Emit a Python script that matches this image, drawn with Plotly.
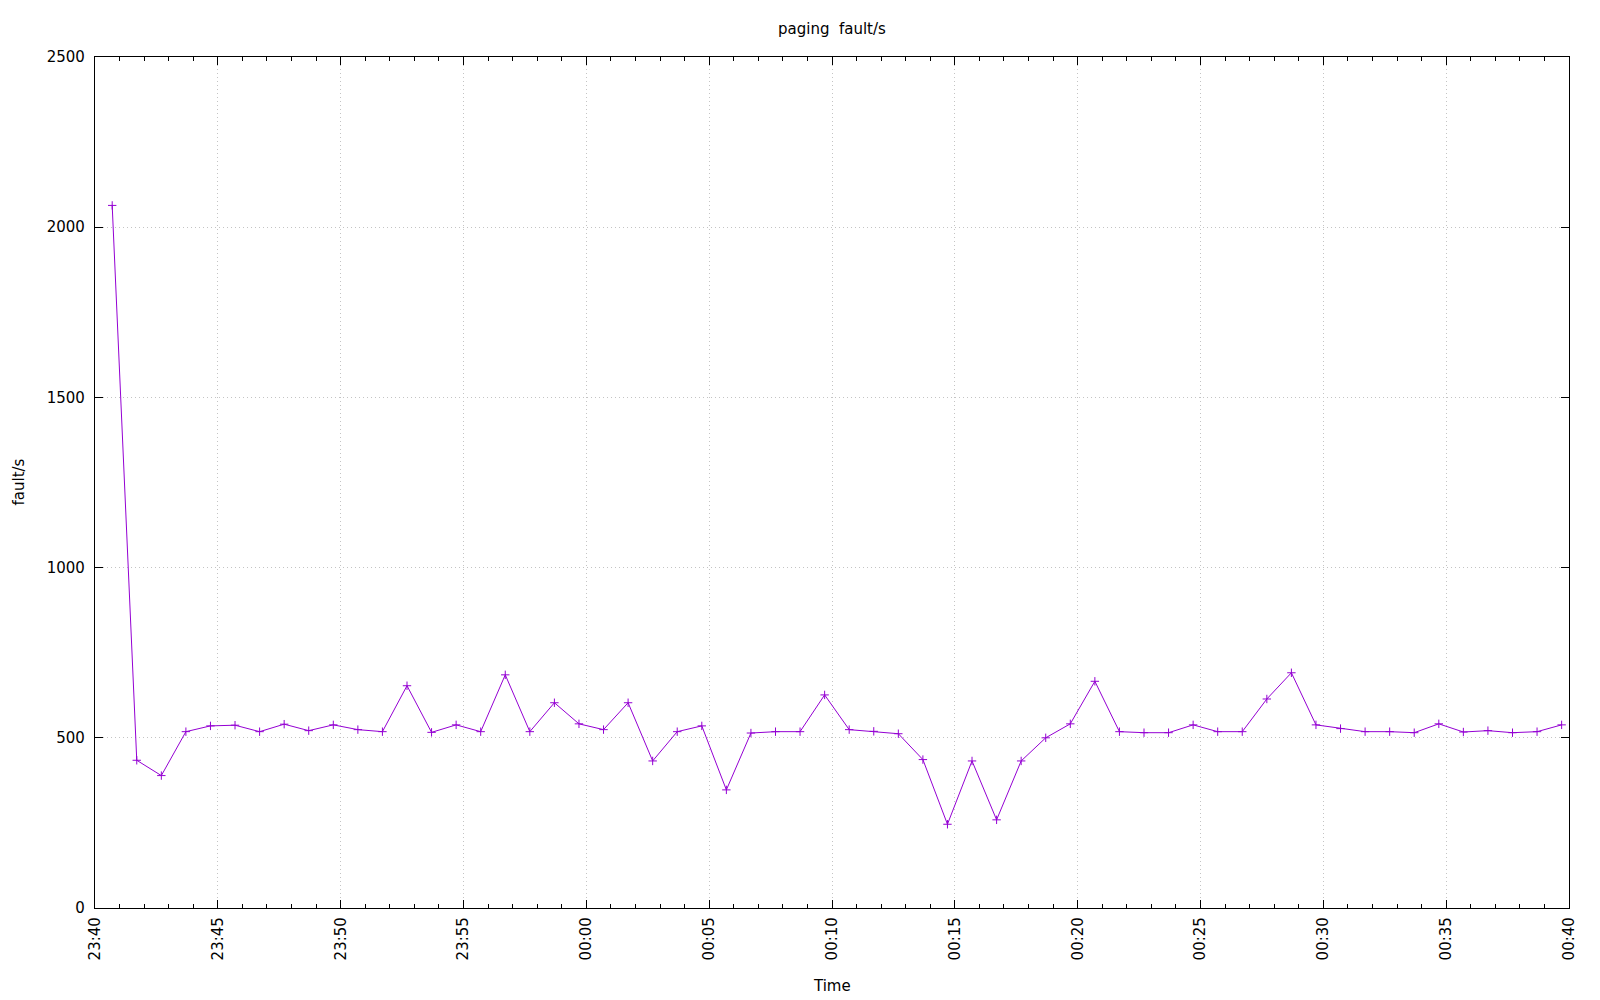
import pandas as pd
import plotly.graph_objects as go

START = "2021-01-01 23:40:42"
N_POINTS = 60
times = pd.date_range(START, periods=N_POINTS, freq="60s")

fault_per_s = [
    2064, 434, 389, 518, 535, 537, 518, 540, 521, 538,
    524, 518, 653, 516, 538, 518, 685, 518, 603, 541,
    524, 603, 432, 518, 535, 347, 514, 518, 518, 626,
    524, 519, 512, 436, 246, 432, 259, 432, 500, 541,
    666, 518, 515, 515, 538, 518, 518, 614, 691, 538,
    527, 518, 518, 515, 541, 517, 521, 515, 518, 538,
]

x_range = ["2021-01-01 23:40:00", "2021-01-02 00:40:00"]
y_range = [0, 2500]

title_text = "paging  fault/s"
x_title = "Time"
y_title = "fault/s"

FONT = "DejaVu Sans"
COLOR = "#9400d3"

fig = go.Figure()
fig.add_trace(go.Scatter(
    x=times, y=fault_per_s, mode="lines+markers",
    line=dict(color=COLOR, width=1),
    marker=dict(symbol="cross-thin", size=6, line=dict(color=COLOR, width=1)),
    showlegend=False,
))

axis_common = dict(
    showline=True, linecolor="black", linewidth=1.3, mirror="allticks",
    ticks="inside", ticklen=8, tickwidth=1, tickcolor="black",
    showgrid=True, gridcolor="#c4c4c4", griddash="1px,3px", gridwidth=1,
    zeroline=False, tickfont=dict(family=FONT, size=15, color="black"),
)

fig.update_xaxes(
    type="date", range=x_range, dtick=300000, tick0="2021-01-01 23:40:00",
    tickformat="%H:%M", tickangle=-90, ticklabelstandoff=2,
    minor=dict(ticks="inside", ticklen=4, dtick=60000, tickcolor="black", showgrid=False),
    **axis_common,
)
fig.update_yaxes(range=y_range, dtick=500, ticklabelstandoff=6, **axis_common)

fig.update_layout(
    width=1600, height=1000,
    margin=dict(l=87, r=39, t=49, b=100),
    paper_bgcolor="white", plot_bgcolor="white",
    font=dict(family=FONT, size=15, color="black"),
    annotations=[
        dict(text=title_text, xref="paper", yref="paper", x=0.5, y=1, yshift=28,
             showarrow=False, xanchor="center", yanchor="middle",
             font=dict(family=FONT, size=15)),
        dict(text=y_title, xref="paper", yref="paper", x=0, xshift=-77, y=0.5,
             showarrow=False, textangle=-90, xanchor="center", yanchor="middle",
             font=dict(family=FONT, size=15)),
        dict(text=x_title, xref="paper", yref="paper", x=0.5, y=0, yshift=-78,
             showarrow=False, xanchor="center", yanchor="middle",
             font=dict(family=FONT, size=15)),
    ],
)

fig.write_html("out.html")
